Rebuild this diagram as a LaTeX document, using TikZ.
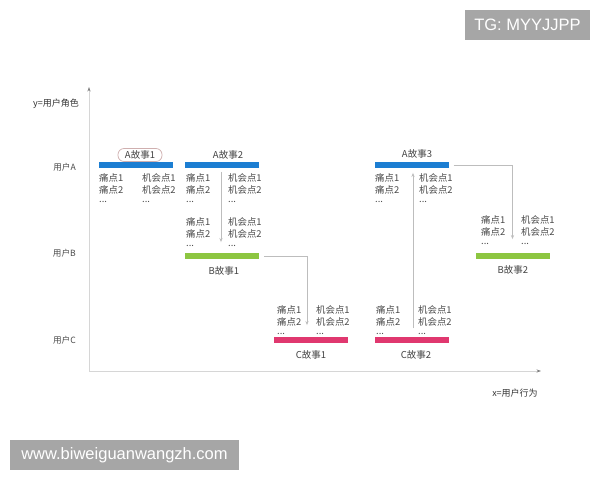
\documentclass[tikz,border=0pt]{standalone}
\usepackage{fontspec}
\setmainfont{Liberation Sans}
\newfontfamily\cjk{Noto Sans CJK SC}
\usetikzlibrary{arrows.meta}
\definecolor{txtgray}{HTML}{4A4A4A}
\definecolor{axgray}{HTML}{D6D6D6}
\definecolor{lngray}{HTML}{BDBDBD}
\definecolor{barblue}{HTML}{1C7ED2}
\definecolor{bargreen}{HTML}{8DC641}
\definecolor{barpink}{HTML}{E0386F}
\definecolor{wmgray}{HTML}{A6A6A6}
\tikzset{
  txt/.style={anchor=west, inner sep=0pt, font=\cjk\fontsize{9.4}{10}\selectfont, text=txtgray},
  lbl/.style={inner sep=0pt, font=\cjk\fontsize{9.5}{10}\selectfont, text=txtgray!90!black},
  role/.style={anchor=east, inner sep=0pt, font=\cjk\fontsize{8.6}{10}\selectfont, text=txtgray},
  bar/.style={rectangle, minimum width=74pt, minimum height=5.5pt, inner sep=0pt, draw=none},
  conn/.style={draw=lngray, line width=0.8pt, -{Stealth[length=4pt,width=3.2pt]}},
  axis/.style={draw=axgray, line width=0.9pt, -{Stealth[length=4.5pt,width=3.2pt,color=gray]}},
  wm/.style={fill=wmgray, text=white, inner sep=0pt, font=\fontsize{16.5}{18}\selectfont}
}
\newcommand\ptlist[4]{%
  \node[txt] (#1a) at (#2,#4) {痛点1};
  \node[txt] (#1b) at (#2,#4+12) {痛点2};
  \node[txt] (#1c) at (#2,#4+24) {...};
  \node[txt] (#1d) at (#3,#4) {机会点1};
  \node[txt] (#1e) at (#3,#4+12) {机会点2};
  \node[txt] (#1f) at (#3,#4+24) {...};
}
\begin{document}
\begin{tikzpicture}[x=1pt,y=-1pt]
\path[use as bounding box, fill=white] (0,0) rectangle (600,480);
% axes
\coordinate (orig) at (89,371);
\coordinate (ytop) at (89,87);
\coordinate (xend) at (541,371);
\draw[axis] (orig) -- (ytop);
\draw[axis] (orig) -- (xend);
\node[inner sep=0pt, font=\cjk\fontsize{9}{10}\selectfont, text=black!80] (ylab) at (56,104) {y=用户角色};
\node[inner sep=0pt, font=\cjk\fontsize{9}{10}\selectfont, text=black!80] (xlab) at (515,393) {x=用户行为};
\node[role] (ra) at (76,167) {用户A};
\node[role] (rb) at (76,253) {用户B};
\node[role] (rc) at (76,340) {用户C};
% bars
\node[bar, fill=barblue] (a1) at (136,165) {};
\node[bar, fill=barblue] (a2) at (222,165) {};
\node[bar, fill=bargreen] (b1) at (222,256) {};
\node[bar, fill=barpink] (c1) at (311,340) {};
\node[bar, fill=barpink] (c2) at (412,340) {};
\node[bar, fill=barblue] (a3) at (411.5,165) {};
\node[bar, fill=bargreen] (b2) at (512.5,256) {};
% labels
\node[lbl, draw=red!25!gray!50, rounded corners=6pt, minimum width=44pt, minimum height=13pt, line width=0.7pt] (la1) at (140,155) {A故事1};
\node[lbl] (la2) at (228,155) {A故事2};
\node[lbl] (la3) at (417,154) {A故事3};
\node[lbl] (lb1) at (224,271) {B故事1};
\node[lbl] (lb2) at (513,270) {B故事2};
\node[lbl] (lc1) at (311,355) {C故事1};
\node[lbl] (lc2) at (416,355) {C故事2};
% point lists
\ptlist{pa}{99}{142}{178}
\ptlist{pb}{186}{228}{178}
\ptlist{pc}{186}{228}{222}
\ptlist{pd}{277}{316}{310}
\ptlist{pe}{376}{418}{310}
\ptlist{pf}{375}{419}{178}
\ptlist{pg}{481}{521}{220}
% connectors
\draw[conn] ([xshift=-1pt,yshift=-4pt]a2.south) -- ([xshift=-1pt,yshift=11pt]b1.north);
\draw[conn] ([xshift=5pt]b1.east) -| ([xshift=-4pt,yshift=12pt]c1.north);
\draw[conn] ([xshift=1pt,yshift=9pt]c2.north) -- ([xshift=1.5pt,yshift=-5pt]a3.south);
\draw[conn] ([xshift=5pt]a3.east) -| ([yshift=14pt]b2.north);
% watermarks
\node[wm, minimum width=125pt, minimum height=30pt] (wm1) at (527.5,25) {TG: MYYJJPP};
\node[wm, minimum width=229pt, minimum height=30pt] (wm2) at (124.5,455) {www.biweiguanwangzh.com};
\end{tikzpicture}
\end{document}
